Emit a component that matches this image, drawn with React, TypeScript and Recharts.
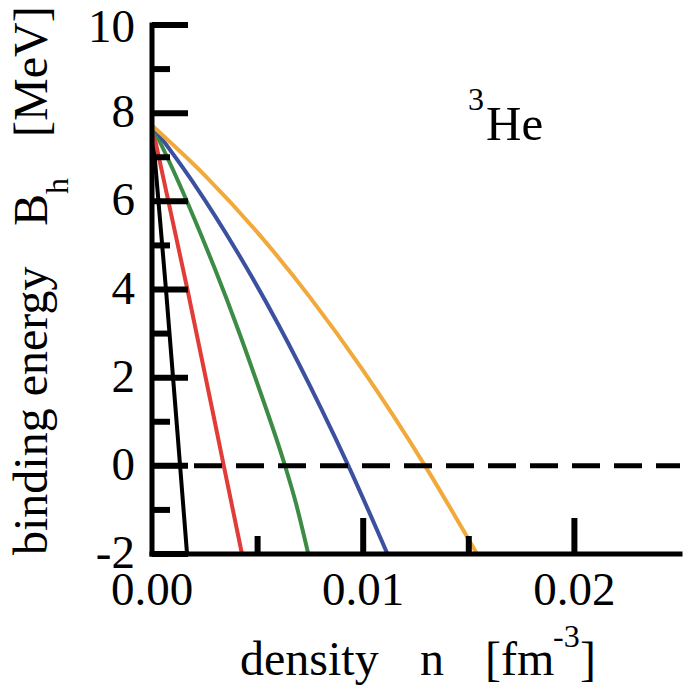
import { LineChart, Line, XAxis, YAxis, ReferenceLine } from "recharts";

// 3He binding energy vs density, five curves + dashed zero line
const xTicks = [0, 0.005, 0.01, 0.015, 0.02];
const xMajor = [0, 0.01, 0.02];
const yTicks = [-2, -1, 0, 1, 2, 3, 4, 5, 6, 7, 8, 9, 10];
const yMajor = [-2, 0, 2, 4, 6, 8, 10];

const nBlack = [0, 0.00067, 0.00133, 0.00166];
const bBlack = [7.72, 3.95, 0, -2];

const nRed = [0, 0.0017, 0.0034, 0.00426];
const bRed = [7.72, 3.95, 0, -2];

const nGreen = [0, 0.001, 0.002, 0.003, 0.004, 0.005, 0.0063, 0.0068, 0.0074];
const bGreen = [7.72, 6.71, 5.61, 4.44, 3.19, 1.85, 0, -0.82, -2];

const nBlue = [0, 0.002, 0.004, 0.006, 0.008, 0.0093, 0.01115];
const bBlue = [7.72, 6.39, 4.88, 3.19, 1.31, 0, -2];

const nOrange = [0, 0.0025, 0.005, 0.0075, 0.01, 0.01293, 0.01539];
const bOrange = [7.72, 6.59, 5.29, 3.81, 2.16, 0, -2];

const series = [
  { key: "black", color: "#000000", n: nBlack, b: bBlack },
  { key: "red", color: "#E13C37", n: nRed, b: bRed },
  { key: "green", color: "#3C8C46", n: nGreen, b: bGreen },
  { key: "blue", color: "#3C50A0", n: nBlue, b: bBlue },
  { key: "orange", color: "#F2A93B", n: nOrange, b: bOrange },
];

// plain attribute, single family: this is what resolves to the serif face
const SERIF = "Liberation Serif";
const MAJOR = 36;
const MINOR = 18;
const TICK_W = 6;
const frame = { stroke: "#000", strokeWidth: 5, strokeLinecap: "square" as const };

function T({ x, y, size, rot, children }: { x: number; y: number; size: number; rot?: boolean; children: any }) {
  return (
    <text
      x={x}
      y={y}
      transform={rot ? `rotate(-90 ${x} ${y})` : undefined}
      fontFamily={SERIF}
      fontSize={size}
      fill="#000"
    >
      {children}
    </text>
  );
}

function XTick(props: any) {
  const { x, y, payload, side } = props;
  const v = payload.value;
  const major = xMajor.includes(v);
  const dir = side === "bottom" ? -1 : 1;
  const len = major ? MAJOR : MINOR;
  return (
    <g>
      {v !== 0 && <line x1={x} y1={y} x2={x} y2={y + dir * len} stroke="#000" strokeWidth={TICK_W} />}
      {side === "bottom" && major && (
        <text x={x} y={y + 51} textAnchor="middle" fontFamily={SERIF} fontSize={47} fill="#000">
          {v.toFixed(2)}
        </text>
      )}
    </g>
  );
}

function YTick(props: any) {
  const { x, y, payload, side } = props;
  const v = payload.value;
  const major = yMajor.includes(v);
  const dir = side === "left" ? 1 : -1;
  const len = major ? MAJOR : MINOR;
  return (
    <g>
      <line x1={x} y1={y} x2={x + dir * len} y2={y} stroke="#000" strokeWidth={TICK_W} />
      {side === "left" && major && (
        <text x={x - 17} y={y + (v === 10 ? 17 : 14)} textAnchor="end" fontFamily={SERIF} fontSize={47} fill="#000">
          {v}
        </text>
      )}
    </g>
  );
}

export default function App() {
  return (
    <div style={{ position: "absolute", left: 0, top: 0, background: "#fff" }}>
      <LineChart width={683} height={687} margin={{ top: 25, right: 3, bottom: 0, left: 0 }}>
        <XAxis
          dataKey="n"
          type="number"
          domain={[0, 0.025]}
          ticks={xTicks}
          interval={0}
          height={133}
          tickSize={0}
          tickMargin={0}
          tickLine={false}
          axisLine={frame}
          allowDataOverflow
          tick={(p: any) => <XTick {...p} side="bottom" />}
        />
        <XAxis
          xAxisId="top"
          orientation="top"
          type="number"
          domain={[0, 0.025]}
          ticks={xTicks}
          interval={0}
          height={0}
          tickSize={0}
          tickMargin={0}
          tickLine={false}
          axisLine={frame}
          allowDataOverflow
          tick={(p: any) => <XTick {...p} side="top" />}
        />
        <YAxis
          type="number"
          domain={[-2, 10]}
          ticks={yTicks}
          interval={0}
          width={152}
          tickSize={0}
          tickMargin={0}
          tickLine={false}
          axisLine={frame}
          allowDataOverflow
          tick={(p: any) => <YTick {...p} side="left" />}
        />
        <YAxis
          yAxisId="right"
          orientation="right"
          type="number"
          domain={[-2, 10]}
          ticks={yTicks}
          interval={0}
          width={0}
          tickSize={0}
          tickMargin={0}
          tickLine={false}
          axisLine={frame}
          allowDataOverflow
          tick={(p: any) => <YTick {...p} side="right" />}
        />
        {series.map((s) => (
          <Line
            key={s.key}
            data={s.n.map((n, i) => ({ n, b: s.b[i] }))}
            dataKey="b"
            type="monotone"
            stroke={s.color}
            strokeWidth={4}
            dot={false}
            isAnimationActive={false}
          />
        ))}
        <ReferenceLine y={0} stroke="#000" strokeWidth={5} strokeDasharray="28 14" />

        {/* x axis title */}
        <T x={240} y={675} size={48}>density</T>
        <T x={420} y={675} size={48}>n</T>
        <T x={485} y={675} size={48}>[fm</T>
        <T x={553} y={647} size={32}>-3</T>
        <T x={580} y={675} size={48}>]</T>

        {/* y axis title, rotated */}
        <T x={47} y={555} size={48} rot>binding energy</T>
        <T x={47} y={226} size={48} rot>B</T>
        <T x={68} y={194} size={32} rot>h</T>
        <T x={47} y={137} size={48} rot>[MeV]</T>

        {/* nucleus label */}
        <T x={468} y={110} size={32}>3</T>
        <T x={486} y={140} size={49}>He</T>
      </LineChart>
    </div>
  );
}
